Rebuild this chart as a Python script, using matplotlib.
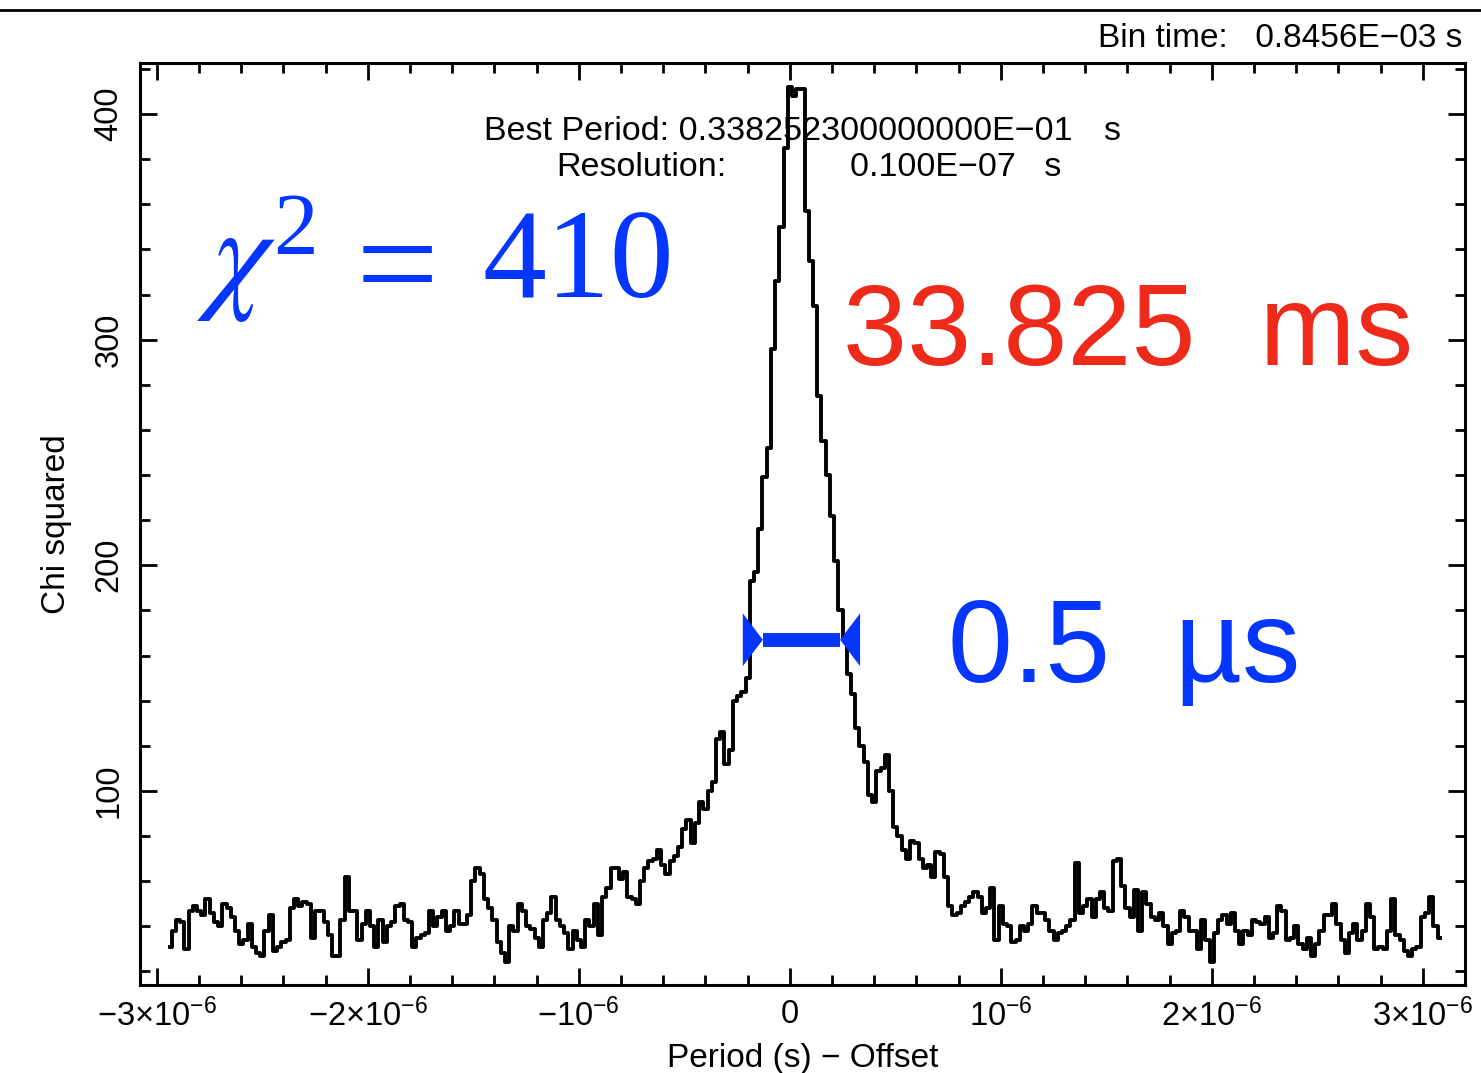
import matplotlib.pyplot as plt
import numpy as np
from matplotlib.ticker import MultipleLocator, FixedLocator, FixedFormatter
from matplotlib.patches import Polygon
from matplotlib.lines import Line2D

plt.rcParams['font.family'] = ['Liberation Sans', 'DejaVu Sans']
plt.rcParams['mathtext.default'] = 'regular'

# trial period grid (offset, microseconds) and chi squared
offset_start_us = -2.94
offset_step_us = 0.02
chi_sq = [
    31, 38, 43, 42, 30, 47, 49, 47, 45, 52, 46, 42, 40, 50, 48, 44, 38, 32, 34, 41,
    31, 28, 27, 38, 45, 29, 31, 33, 34, 48, 52, 49, 51, 50, 35, 47, 47, 42, 36, 27,
    27, 43, 62, 47, 47, 34, 41, 47, 40, 31, 43, 33, 40, 42, 49, 50, 43, 42, 31, 35,
    36, 37, 47, 40, 44, 47, 38, 40, 47, 41, 41, 45, 60, 66, 63, 52, 48, 43, 33, 28,
    24, 40, 38, 50, 47, 40, 39, 35, 31, 43, 46, 53, 43, 40, 37, 30, 38, 34, 31, 43,
    40, 50, 36, 53, 57, 66, 66, 61, 64, 53, 52, 50, 60, 66, 69, 70, 74, 67, 63, 69,
    71, 75, 83, 87, 77, 86, 95, 92, 100, 104, 123, 126, 112, 118, 140, 142, 144, 150, 193, 197,
    216, 239, 252, 296, 326, 350, 385, 412, 408, 411, 411, 357, 335, 315, 275, 255, 240, 222, 202, 180,
    168, 152, 143, 128, 120, 113, 98, 95, 109, 110, 116, 100, 84, 80, 74, 70, 78, 77, 70, 66,
    67, 62, 73, 72, 62, 49, 45, 46, 49, 51, 53, 55, 53, 46, 48, 57, 34, 49, 41, 40,
    33, 34, 40, 38, 41, 49, 46, 46, 43, 38, 34, 37, 38, 40, 43, 68, 46, 49, 52, 44,
    52, 55, 48, 47, 69, 70, 58, 48, 44, 56, 38, 55, 50, 44, 43, 46, 40, 32, 37, 38,
    47, 44, 38, 38, 30, 43, 34, 24, 37, 43, 45, 41, 46, 38, 32, 38, 36, 43, 42, 41,
    44, 35, 37, 49, 47, 34, 35, 40, 32, 30, 35, 27, 32, 38, 45, 45, 50, 41, 34, 28,
    37, 41, 34, 38, 50, 44, 30, 31, 30, 38, 52, 36, 34, 29, 27, 30, 31, 44, 46, 53,
    40, 35,
]
offset = (offset_start_us + offset_step_us * np.arange(len(chi_sq))) * 1e-6

xtick_vals = [-3e-6, -2e-6, -1e-6, 0, 1e-6, 2e-6, 3e-6]
xtick_labels = [r'$-3×10^{-6}$', r'$-2×10^{-6}$', r'$-10^{-6}$', '0',
                r'$10^{-6}$', r'$2×10^{-6}$', r'$3×10^{-6}$']
ytick_vals = [100, 200, 300, 400]

# width marker at half height
fwhm_left = -0.223e-6
fwhm_right = 0.333e-6
fwhm_level = 167

blue = '#0536ff'
red = '#ee2a1b'

W, H = 1481, 1073
fig = plt.figure(figsize=(W / 100, H / 100), dpi=100)
ax = fig.add_axes([140 / W, 1 - 985 / H, (1465 - 140) / W, (985 - 63) / H])

ax.step(offset, chi_sq, where='mid', color='black', lw=2.8)

ax.set_xlim(-3.08e-6, 3.2e-6)
ax.set_ylim(14, 422.6)
ax.xaxis.set_major_locator(FixedLocator(xtick_vals))
ax.xaxis.set_major_formatter(FixedFormatter(xtick_labels))
ax.xaxis.set_minor_locator(MultipleLocator(0.2e-6))
ax.yaxis.set_major_locator(FixedLocator(ytick_vals))
ax.yaxis.set_minor_locator(MultipleLocator(20))
ax.tick_params(which='both', direction='in', top=True, right=True, width=2)
ax.tick_params(which='major', length=12)
ax.tick_params(which='minor', length=7)
ax.tick_params(axis='x', labelsize=23.5, pad=10)
ax.tick_params(axis='y', labelsize=23.5, pad=11)
for lab in ax.get_yticklabels():
    lab.set_rotation(90)
    lab.set_va('center')
for s in ax.spines.values():
    s.set_linewidth(2.2)

ax.set_xlabel('Period (s) − Offset', fontsize=24, labelpad=7)
ax.set_ylabel('Chi squared', fontsize=24, labelpad=16)

# FWHM bar with inward-pointing heads
head_len = 0.095e-6
head_half = 11.7
ax.plot([fwhm_left + head_len, fwhm_right - head_len], [fwhm_level, fwhm_level],
        color=blue, lw=10, solid_capstyle='butt', zorder=4)
ax.add_patch(Polygon([(fwhm_left, fwhm_level + head_half), (fwhm_left, fwhm_level - head_half),
                      (fwhm_left + head_len, fwhm_level)], closed=True, color=blue, lw=0, zorder=4))
ax.add_patch(Polygon([(fwhm_right, fwhm_level + head_half), (fwhm_right, fwhm_level - head_half),
                      (fwhm_right - head_len, fwhm_level)], closed=True, color=blue, lw=0, zorder=4))

# header texts
fig.text(1462 / W, 1 - 47 / H, 'Bin time:   0.8456E−03 s', fontsize=24, ha='right', va='baseline')
fig.text(484 / W, 1 - 140 / H, 'Best Period: 0.338252300000000E−01', fontsize=24.5, ha='left', va='baseline')
fig.text(1103 / W, 1 - 140 / H, 's', fontsize=24.5, ha='left', va='baseline')
fig.text(556 / W, 1 - 176 / H, 'Resolution:', fontsize=24.5, ha='left', va='baseline')
fig.text(850 / W, 1 - 176 / H, '0.100E−07   s', fontsize=24.5, ha='left', va='baseline')

# big annotations
fig.text(197 / W, 1 - 297 / H, r'$\mathit{\chi}^{2}$', fontsize=92, color=blue,
         family='Liberation Serif', math_fontfamily='stix', ha='left', va='baseline')
fig.text(356 / W, 1 - 312 / H, '=', fontsize=106, color=blue,
         family='Liberation Serif', ha='left', va='baseline')
fig.text(482 / W, 1 - 297 / H, '410', fontsize=92, color=blue,
         family='Liberation Serif', ha='left', va='baseline')
fig.text(843 / W, 1 - 365 / H, '33.825  ms', fontsize=83, color=red, ha='left', va='baseline')
fig.text(948 / W, 1 - 682 / H, '0.5  µs', fontsize=84, color=blue, ha='left', va='baseline')

fig.add_artist(Line2D([0, 1], [1 - 10 / H, 1 - 10 / H], color='black', lw=2, transform=fig.transFigure))

fig.savefig('out.png', dpi=100)
